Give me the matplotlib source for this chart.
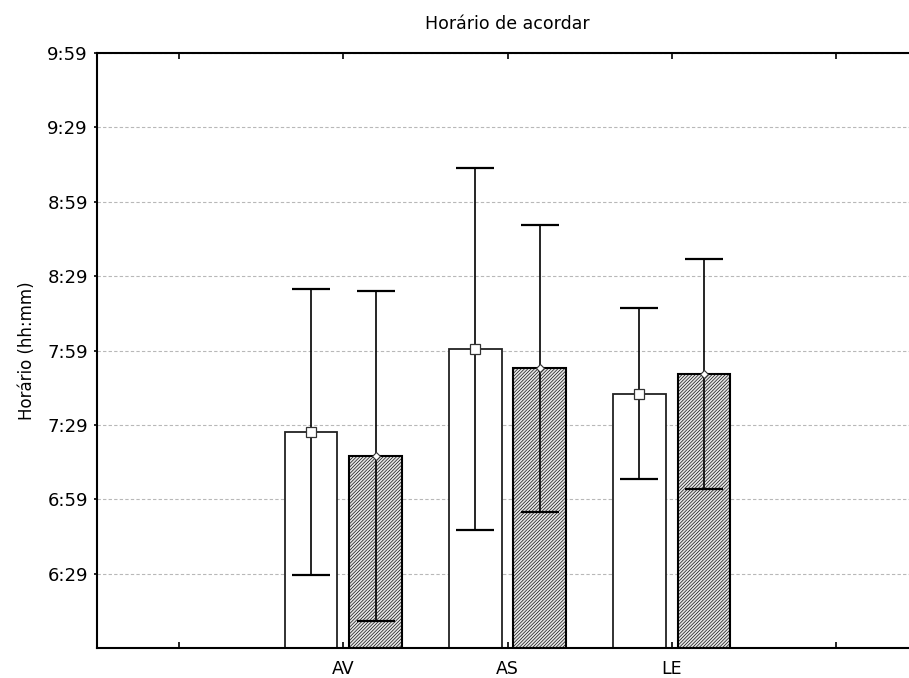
import matplotlib.pyplot as plt
import numpy as np

plt.rcParams['font.family'] = 'DejaVu Sans'
plt.rcParams['hatch.linewidth'] = 0.45
plt.rcParams['hatch.color'] = '#4a4a4a'

# wake-up time, minutes after midnight (mean and +/- spread)
groups = ['AV', 'AS', 'LE']
mean_a = [446.3, 479.5, 461.6]
err_a = [57.7, 73.0, 34.5]
mean_b = [436.5, 471.8, 469.6]
err_b = [66.7, 57.8, 46.5]

ytick_vals = [389, 419, 449, 479, 509, 539, 569, 599]
ymin, ymax = 359, 599


def fmt_time(m):
    return '%d:%02d' % (m // 60, m % 60)


fig = plt.figure(figsize=(9.09, 6.78), dpi=100)
ax = fig.add_axes([97 / 909, 30 / 678, 821 / 909, 595 / 678])

xpos = np.arange(1, len(groups) + 1)
off = 0.197
w = 0.322

# bars (start from the bottom of the axis)
ha = np.array(mean_a) - ymin
hb = np.array(mean_b) - ymin
ax.bar(xpos - off, ha, w, bottom=ymin, color='white', edgecolor='#222222',
       linewidth=1.3, zorder=2)
ax.bar(xpos + off, hb, w, bottom=ymin, color='#e4e4e4', edgecolor='black',
       linewidth=1.5, hatch='//////////', zorder=2)

# error bars + markers
ax.errorbar(xpos - off, mean_a, yerr=err_a, fmt='none', ecolor='black',
            elinewidth=1.2, capsize=13.5, capthick=1.6, zorder=3)
ax.errorbar(xpos + off, mean_b, yerr=err_b, fmt='none', ecolor='black',
            elinewidth=1.2, capsize=13.5, capthick=1.6, zorder=3)
ax.plot(xpos - off, mean_a, 's', ms=6.5, mfc='white', mec='#333333', mew=0.9,
        zorder=4)
ax.plot(xpos + off, mean_b, 'D', ms=4.5, mfc='white', mec='#333333', mew=0.8,
        zorder=4)

ax.set_xlim(-0.5, 4.5)
ax.set_ylim(ymin, ymax)
ax.set_xticks(range(5))
ax.set_xticklabels([''] + groups + [''], fontsize=12.5)
ax.set_yticks(ytick_vals)
ax.set_yticklabels([fmt_time(v) for v in ytick_vals], fontsize=13)

ax.tick_params(axis='x', direction='in', length=4, width=1.2, pad=8.5,
               top=True)
ax.tick_params(axis='y', direction='out', length=2.5, width=1.2, pad=4)

ax.set_axisbelow(True)
ax.yaxis.grid(True, color='#b8b8b8', linestyle=(0, (3, 2)), linewidth=0.8)

for sp in ax.spines.values():
    sp.set_linewidth(1.5)

ax.set_title('Horário de acordar', fontsize=12.5, pad=17)
ax.set_ylabel('Horário (hh:mm)', fontsize=12, labelpad=8)

fig.savefig('out.png', dpi=100)
